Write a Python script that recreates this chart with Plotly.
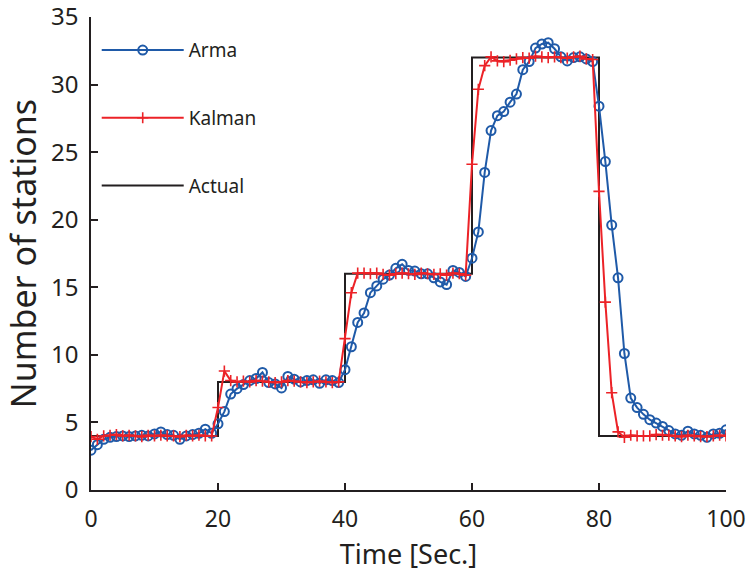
import plotly.graph_objects as go

time = list(range(0, 101))

arma = [2.95, 3.35, 3.75, 3.9, 3.95, 4.0, 3.95, 4.0, 4.05, 4.0,
        4.15, 4.3, 4.1, 4.05, 3.75, 4.0, 4.1, 4.2, 4.5, 4.2,
        4.9, 5.8, 7.1, 7.5, 7.8, 8.1, 8.25, 8.7, 7.95, 7.85,
        7.55, 8.4, 8.2, 8.0, 8.1, 8.15, 7.9, 8.15, 8.1, 7.95,
        8.9, 10.6, 12.4, 13.1, 14.6, 15.1, 15.6, 15.9, 16.4, 16.7,
        16.25, 16.2, 16.0, 16.0, 15.7, 15.4, 15.2, 16.25, 16.1, 15.8,
        17.15, 19.1, 23.5, 26.6, 27.7, 28.0, 28.7, 29.3, 31.1, 31.7,
        32.7, 33.0, 33.1, 32.65, 32.05, 31.75, 32.0, 32.05, 31.9, 31.7,
        28.4, 24.3, 19.6, 15.7, 10.1, 6.8, 6.1, 5.6, 5.2, 4.95,
        4.7, 4.4, 4.15, 4.05, 4.35, 4.15, 4.05, 3.9, 4.15, 4.2,
        4.45]

kalman = [3.95, 3.75, 4.0, 4.05, 4.1, 4.0, 4.05, 4.0, 3.95, 4.05,
          4.0, 4.05, 4.0, 4.0, 3.95, 4.05, 4.0, 4.05, 4.0, 4.0,
          6.1, 8.8, 8.1, 8.0, 8.05, 8.0, 8.1, 8.05, 8.0, 7.95,
          8.0, 8.1, 8.05, 8.0, 7.95, 8.0, 8.05, 8.0, 7.95, 8.0,
          11.2, 14.6, 16.05, 16.05, 16.0, 16.05, 15.95, 15.9, 16.0, 16.05,
          16.0, 15.95, 16.05, 16.0, 15.95, 16.0, 15.9, 16.05, 16.0, 15.9,
          24.1, 29.65, 31.4, 32.05, 31.75, 31.7, 31.8, 31.9, 32.0, 31.95,
          32.1, 32.05, 32.0, 32.05, 32.0, 31.95, 32.05, 32.1, 31.9, 31.85,
          22.1, 13.9, 7.2, 4.3, 3.9, 4.05, 4.0, 4.0, 4.0, 4.1,
          4.05, 4.05, 4.0, 3.95, 4.05, 4.0, 3.95, 3.95, 4.0, 4.05,
          4.0]

actual_t = [0, 20, 40, 60, 80, 100]
actual_v = [4, 8, 16, 32, 4, 4]

x_ticks = [0, 20, 40, 60, 80, 100]
y_ticks = [0, 5, 10, 15, 20, 25, 30, 35]

BLUE = "#1f5aa8"
RED = "#ec2227"
BLACK = "#231f20"
FONT = "Noto Sans"

fig = go.Figure()
fig.add_trace(go.Scatter(
    x=actual_t, y=actual_v, mode="lines", name="Actual",
    line=dict(color=BLACK, width=2, shape="hv"),
    legendgroup="c", legendrank=3))
fig.add_trace(go.Scatter(
    x=time, y=arma, mode="lines+markers", name="Arma",
    line=dict(color=BLUE, width=2),
    marker=dict(symbol="circle-open", size=9, color=BLUE, line=dict(width=2, color=BLUE)),
    legendgroup="a", legendrank=1))
fig.add_trace(go.Scatter(
    x=time, y=kalman, mode="lines+markers", name="Kalman",
    line=dict(color=RED, width=2),
    marker=dict(symbol="cross-thin-open", size=8, color=RED, line=dict(width=1.6, color=RED)),
    legendgroup="b", legendrank=2))

fig.update_layout(
    width=750, height=579,
    margin=dict(l=91, r=24, t=17, b=89),
    paper_bgcolor="white", plot_bgcolor="white",
    font=dict(family=FONT, color=BLACK),
    showlegend=True,
    legend=dict(
        x=0.009, y=0.97, xanchor="left", yanchor="top",
        traceorder="grouped", tracegroupgap=40,
        itemwidth=82, bgcolor="rgba(0,0,0,0)",
        font=dict(family="Liberation Sans Narrow, " + FONT, size=19, color=BLACK),
    ),
    xaxis=dict(
        range=[0, 100], tickvals=x_ticks, ticktext=[str(v) for v in x_ticks],
        showgrid=False, zeroline=False, showline=True, linecolor=BLACK, linewidth=1.5,
        ticks="inside", ticklen=7, tickwidth=1.5, tickcolor=BLACK,
        tickfont=dict(size=23, color=BLACK), ticklabelstandoff=8,
        ticklabeloverflow="allow", automargin=False,
        title=dict(text="Time [Sec.]", font=dict(size=27, color=BLACK), standoff=12),
    ),
    yaxis=dict(
        range=[0, 35], tickvals=y_ticks, ticktext=[str(v) for v in y_ticks],
        showgrid=False, zeroline=False, showline=True, linecolor=BLACK, linewidth=1.5,
        ticks="inside", ticklen=7, tickwidth=1.5, tickcolor=BLACK,
        tickfont=dict(size=24, color=BLACK), ticklabelstandoff=6,
        ticklabeloverflow="allow", automargin=False,
        title=dict(text="Number of stations", font=dict(size=34, color=BLACK), standoff=4),
    ),
)

fig.write_html("out.html")
